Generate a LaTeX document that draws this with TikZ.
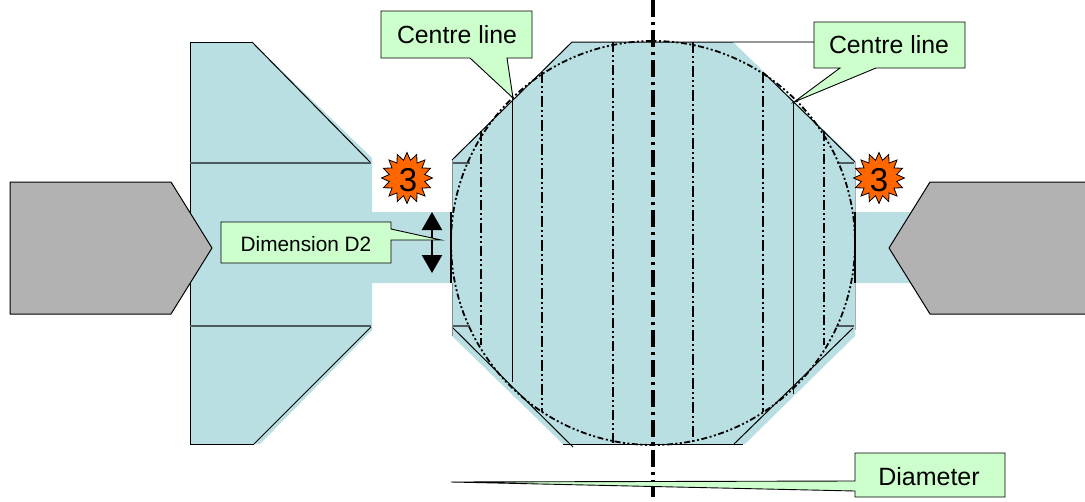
\documentclass[tikz,border=0pt]{standalone}
\usepackage{fontspec}
\setmainfont{Liberation Sans}
\usetikzlibrary{arrows.meta}
\definecolor{blk}{HTML}{B9DFE3}
\definecolor{gry}{HTML}{B2B2B2}
\definecolor{org}{HTML}{FF6600}
\definecolor{cal}{HTML}{CCFFCC}
\definecolor{sep}{HTML}{4D5A5E}
\tikzset{
  x=1pt,y=-1pt,
  block/.style={fill=blk,draw=none},
  tool/.style={fill=gry,draw=black,line width=1pt,line join=round},
  callout/.style={fill=cal,draw=black,line width=0.9pt,line join=miter},
  edge/.style={draw=black,line width=1pt},
  sepline/.style={draw=sep,line width=1.4pt},
  chordA/.style={draw=black,line width=2pt,dash pattern=on 10pt off 3pt on 2pt off 3pt on 2pt off 3pt},
  chordB/.style={draw=black,line width=2.8pt,dash pattern=on 11pt off 3pt on 2pt off 3pt on 2pt off 3pt},
  axisline/.style={draw=black,line width=3.4pt,dash pattern=on 17pt off 5pt on 3pt off 5pt},
  circ/.style={draw=black,line width=1.8pt,dash pattern=on 6pt off 2.5pt on 2pt off 2.5pt on 2pt off 2.5pt},
  burst/.style={fill=org,draw=black,line width=0.8pt,line join=miter},
  lab/.style={inner sep=0pt,text=black}
}
\newcommand{\burstat}[2]{%
  \draw[burst] plot[samples at={0,11.25,...,348.75},variable=\a] ({#1+(mod(round(\a/11.25),2)==0 ? 25.5 : 18)*cos(\a)},{#2+(mod(round(\a/11.25),2)==0 ? 25.5 : 18)*sin(\a)}) -- cycle;
}
\begin{document}
\begin{tikzpicture}
\useasboundingbox (0,0) rectangle (1085,501);
% blocks
\path[block] (190,42) -- (252,42) -- (372,158) -- (372,212) -- (452,212) -- (452,283) -- (372,283) -- (372,330) -- (260,444) -- (190,444) -- cycle;
\path[block] (452,160) -- (572,42) -- (733,42) -- (855,160) -- (855,212) -- (935,212) -- (935,283) -- (855,283) -- (855,336) -- (745,444) -- (563,444) -- (452,336) -- cycle;
% left block outlines
\draw[edge] (252,42) -- (190,42) -- (190,444) -- (254,444);
\draw[edge] (252,42) -- (370,162);
\draw[edge] (371,327) -- (254,444);
\draw[sepline] (190,163) -- (371,163);
\draw[sepline] (190,326) -- (371,326);
% octagon outlines
\draw[edge] (452,160) -- (572,42) -- (733,42);
\draw[edge] (763,72) -- (855,162);
\draw[edge] (452,327) -- (573,447);
\draw[line width=1.3pt] (563,444.5) -- (743,444.5);
\draw[edge] (853,328) -- (734,444);
\draw[sepline] (452,163) -- (470,163);
\draw[sepline] (837,163) -- (854,163);
\draw[sepline] (452,326) -- (470,326);
\draw[sepline] (836,326) -- (854,326);
\draw[line width=1pt,draw=sep!70] (452,160) -- (452,212) (452,283) -- (452,336);
\draw[line width=1pt,draw=sep!50] (855,162) -- (855,212) (855,283) -- (855,330);
\draw[line width=1.4pt] (451,212) -- (451,283);
\draw[line width=1.4pt] (855,212) -- (855,283);
% grey leader
\draw[draw=gry!85!black,line width=1.2pt] (733,42) -- (814,42);
% circle and chords
\draw[circ] (653,243) circle (202);
\draw[chordA] (481,131) -- (481,345);
\draw[edge] (512,98) -- (512,382);
\draw[chordB] (542,72) -- (542,412);
\draw[chordA] (613,42) -- (613,444);
\draw[chordB] (693,42) -- (693,444);
\draw[chordB] (763,72) -- (763,412);
\draw[edge] (793,102) -- (793,394);
\draw[chordA] (824,131) -- (824,345);
\draw[axisline] (653,0) -- (653,501);
% tools
\draw[tool] (10,182) -- (171,182) -- (212,248) -- (171,314) -- (10,314) -- cycle;
\draw[tool] (1086,182) -- (930,182) -- (889,248) -- (930,314) -- (1086,314);
% bursts
\burstat{407}{178}
\burstat{879}{178}
\node[lab,font=\fontsize{33}{33}\selectfont] (b1) at (408,180) {3};
\node[lab,font=\fontsize{33}{33}\selectfont] (b2) at (879,180) {3};
% dimension arrow
\coordinate (d1) at (432,212);
\coordinate (d2) at (432,273);
\draw[{Triangle[length=18pt,width=20pt]}-{Triangle[length=18pt,width=20pt]},line width=2.4pt] (d1) -- (d2);
% callouts
\coordinate (t1) at (513,98);
\coordinate (t2) at (794,102);
\coordinate (t3) at (441,240);
\coordinate (t4) at (451,482);
\draw[callout] (381,11) -- (532,11) -- (532,58) -- (507,58) -- (t1) -- (470,58) -- (381,58) -- cycle;
\draw[callout] (814,22) -- (965,22) -- (965,68) -- (876,68) -- (t2) -- (840,68) -- (814,68) -- cycle;
\draw[callout] (221,222) -- (391,222) -- (391,229) -- (t3) -- (391,240) -- (391,263) -- (221,263) -- cycle;
\draw[callout] (855,453) -- (1005,453) -- (1005,497) -- (855,497) -- (855,491) -- (t4) -- (855,481) -- cycle;
\node[lab,font=\fontsize{24.8}{24.8}\selectfont] (c1) at (457,35) {Centre line};
\node[lab,font=\fontsize{24.8}{24.8}\selectfont] (c2) at (889,45) {Centre line};
\node[lab,font=\fontsize{20.8}{20.8}\selectfont] (c3) at (306,244) {Dimension D2};
\node[lab,font=\fontsize{25}{25}\selectfont] (c4) at (929,477) {Diameter};
\end{tikzpicture}
\end{document}
